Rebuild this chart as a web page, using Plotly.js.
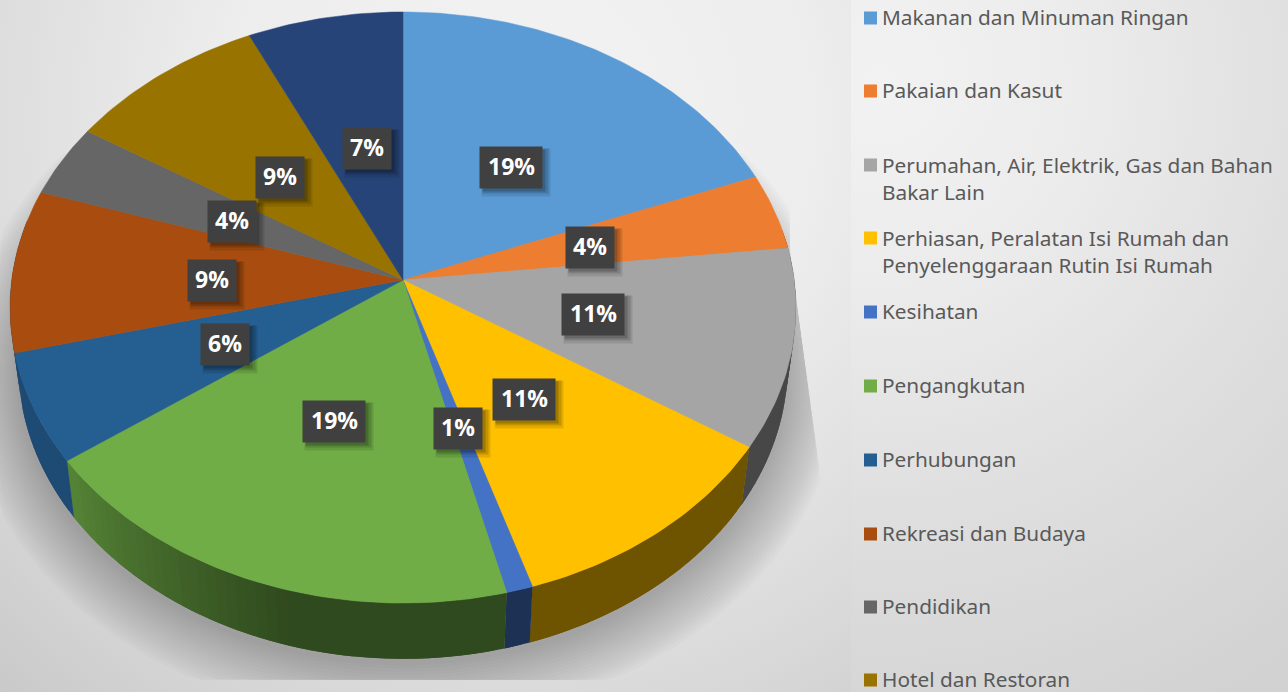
<!DOCTYPE html>
<html>
<head>
<meta charset="utf-8">
<script src="https://cdn.plot.ly/plotly-3.0.1.min.js"></script>
<style>
html,body{margin:0;padding:0;width:1288px;height:692px;overflow:hidden}
body{background:
 radial-gradient(circle 700px at 29px 80px,#f2f2f2 0,#ececec 200px,#dfdfdf 430px,#d2d2d2 700px) 851px 0/437px 692px no-repeat,
 radial-gradient(circle 775px at 520px 120px,#f3f3f3 0,#ededed 300px,#dddddd 530px,#d8d8d8 600px,#c9c9c9 775px) 0 0/851px 692px no-repeat;}
#chart{width:1288px;height:692px}
</style>
</head>
<body>
<div id="chart"></div>
<script>
// ---------- data ----------
const categories = [
  "Makanan dan Minuman Ringan","Pakaian dan Kasut",
  "Perumahan, Air, Elektrik, Gas dan Bahan<br>Bakar Lain",
  "Perhiasan, Peralatan Isi Rumah dan<br>Penyelenggaraan Rutin Isi Rumah",
  "Kesihatan","Pengangkutan","Perhubungan","Rekreasi dan Budaya","Pendidikan","Hotel dan Restoran"
];
const shareValues = [19.07,4.17,10.87,11.0,1.0,18.95,6.0,8.9,3.96,9.05,7.0];
const sliceNames = [
  "Makanan dan Minuman Ringan","Pakaian dan Kasut","Perumahan, Air, Elektrik, Gas dan Bahan Bakar Lain",
  "Perhiasan, Peralatan Isi Rumah dan Penyelenggaraan Rutin Isi Rumah","Kesihatan","Pengangkutan",
  "Perhubungan","Rekreasi dan Budaya","Pendidikan","Hotel dan Restoran","Lain-lain"
];
const sliceColors = ["#5B9BD5","#ED7D31","#A5A5A5","#FFC000","#4472C4","#70AD47","#255E91","#A84D0F","#666666","#997300","#264478"];
const legendColors = sliceColors.slice(0,10);
// ---------- layout helpers ----------
const legendY = [18,91,165,238,312,386,460,534,607,680];
const legendTextY = [17,90,178,251.5,311,385,459,533,606,678.5];
const labelX = [511,590,593,524,458,334,225,212,232,280,367];
const labelY = [167,247,314,399,428,421,344,280,221,177,148];
const labelW = [62,48,62,62,48,62,48,48,48,48,48];

const topPlane = {x0:403,y0:280,A:391.3,B:293,p:0.0931};
const lowPlane = {x0:403,y0:338,A:383,B:291,p:0.0931};
function rim(pl,deg,grow){
  const t=deg*Math.PI/180, w=1/(1+pl.p*Math.cos(t)), g=grow||0;
  return [pl.x0+(pl.A+g)*Math.sin(t)*w, pl.y0-(pl.B+g)*Math.cos(t)*w];
}
function shade(hex,f){
  const n=parseInt(hex.slice(1),16);
  return "rgb("+[n>>16,(n>>8)&255,n&255].map(c=>Math.round(c*f)).join(",")+")";
}
function wallFactor(d){
  if(d<=196) return 0.43;
  if(d<=234) return 0.43+(d-196)/38*0.33;
  return 0.80;
}
const total = shareValues.reduce((a,b)=>a+b,0);
const traces = [];

// soft shadow under the disc
const SHADOW_LAYERS=18;
for(let k=SHADOW_LAYERS;k>=1;k--){
  const xs=[],ys=[],g=k*3;
  for(let d=55;d<=305;d+=2){
    const q=rim(lowPlane,d,g);
    const yy=Math.min(q[1]+3,680);
    const limit=q[1]>250?790+(q[1]-250)*30/220:790;
    xs.push(Math.max(0,Math.min(q[0],limit))); ys.push(yy);
  }
  traces.push({type:"scatter",mode:"lines",x:xs,y:ys,fill:"toself",fillcolor:"rgba(40,40,40,0.018)",
    line:{width:0},hoverinfo:"skip",showlegend:false});
}

// rim wall + top face of every slice, angles come from the values
let acc=0;
const bounds=shareValues.map(v=>{const a=acc/total*360; acc+=v; return [a,acc/total*360];});
// the visible far-left tip of the wall stays in the colour of the slice next to it
const wallColorIndex=[0,1,2,3,4,5,6,6,8,9,10];
bounds.forEach((b,i)=>{
  const s=Math.max(b[0],80), e=Math.min(b[1],282);
  if(e<=s) return;
  const n=Math.max(1,Math.ceil((e-s)/1.5));
  for(let j=0;j<n;j++){
    const d1=s+(e-s)*j/n, d2=s+(e-s)*(j+1)/n;
    const d2x=j<n-1?Math.min(e,d2+1.5):d2;   // overlap the next facet inside one slice
    const xs=[],ys=[];
    [[topPlane,d1],[topPlane,d2x],[lowPlane,d2x],[lowPlane,d1],[topPlane,d1]].forEach(p=>{
      const q=rim(p[0],p[1]); xs.push(q[0]); ys.push(q[1]);
    });
    const col=shade(sliceColors[wallColorIndex[i]],wallFactor((d1+d2)/2));
    traces.push({type:"scatter",mode:"lines",x:xs,y:ys,fill:"toself",fillcolor:col,line:{width:0},
      hoverinfo:"skip",showlegend:false});
  }
});
bounds.forEach((b,i)=>{
  const xs=[topPlane.x0],ys=[topPlane.y0];
  const n=Math.max(2,Math.ceil(b[1]-b[0]));
  for(let j=0;j<=n;j++){const q=rim(topPlane,b[0]+(b[1]-b[0])*j/n); xs.push(q[0]); ys.push(q[1]);}
  xs.push(topPlane.x0); ys.push(topPlane.y0);
  traces.push({type:"scatter",mode:"lines",name:sliceNames[i],x:xs,y:ys,fill:"toself",
    fillcolor:sliceColors[i],line:{width:0.5,color:sliceColors[i]},hoverinfo:"name",showlegend:false});
});

// legend swatches
traces.push({type:"scatter",mode:"markers",x:legendColors.map(()=>870.5),y:legendY,
  marker:{symbol:"square",size:13,color:legendColors,line:{width:0}},hoverinfo:"skip",showlegend:false});

const annotations=[];
// data labels: soft shadow, then the dark box, then the text
shareValues.forEach((v,i)=>{
  [[5,5,"rgba(0,0,0,0.10)",6],[4,4,"rgba(0,0,0,0.14)",3],[3,3,"rgba(0,0,0,0.18)",0]].forEach(o=>{
    annotations.push({xref:"x",yref:"y",x:labelX[i]+o[0],y:labelY[i]+o[1],text:" ",showarrow:false,
      width:labelW[i]+o[3],height:41+o[3],bgcolor:o[2],borderpad:0,xanchor:"center",yanchor:"middle"});
  });
});
shareValues.forEach((v,i)=>{
  annotations.push({xref:"x",yref:"y",x:labelX[i],y:labelY[i],text:" ",showarrow:false,
    width:labelW[i],height:41,bgcolor:"#404040",borderpad:0,xanchor:"center",yanchor:"middle"});
});
shareValues.forEach((v,i)=>{
  annotations.push({xref:"x",yref:"y",x:labelX[i],y:labelY[i],yshift:1,text:"<b>"+Math.round(v/total*100)+"%</b>",showarrow:false,
    borderpad:0,xanchor:"center",yanchor:"middle",
    font:{family:"'Open Sans',sans-serif",size:23,color:"#ffffff"}});
});
// legend text
categories.forEach((c,i)=>{
  annotations.push({xref:"x",yref:"y",x:881,y:legendTextY[i],text:c,showarrow:false,xanchor:"left",yanchor:"middle",align:"left",
    borderpad:0,font:{family:"'Noto Sans',sans-serif",size:20.8,color:"#595959"}});
});

Plotly.newPlot("chart",traces,{
  width:1288,height:692,margin:{l:0,r:0,t:0,b:0,pad:0},
  paper_bgcolor:"rgba(0,0,0,0)",plot_bgcolor:"rgba(0,0,0,0)",showlegend:false,
  xaxis:{range:[0,1288],visible:false,fixedrange:true},
  yaxis:{range:[692,0],visible:false,fixedrange:true},
  annotations:annotations
},{displayModeBar:false});
</script>
</body>
</html>
